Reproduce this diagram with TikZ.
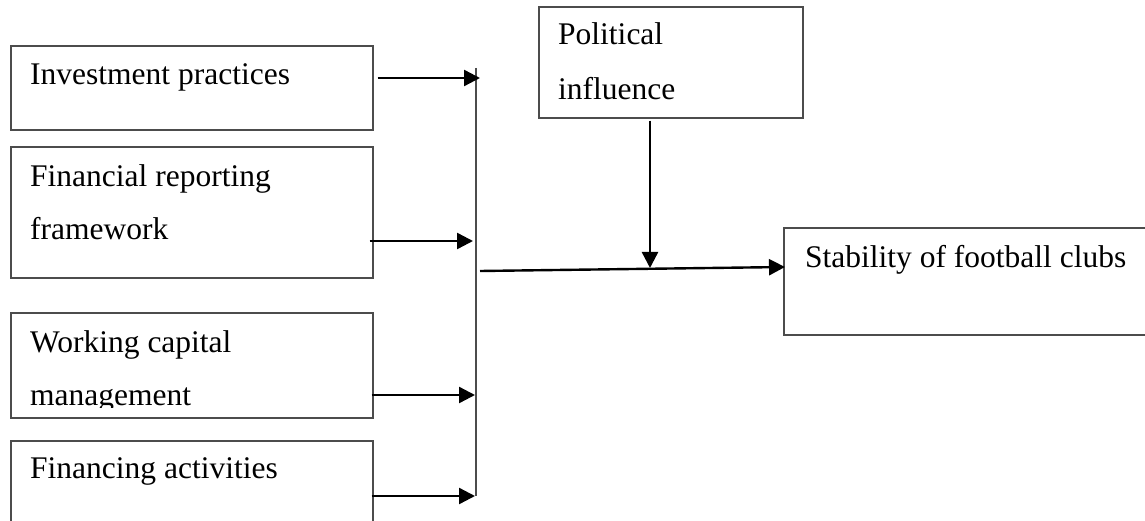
\documentclass[tikz,border=0pt]{standalone}
\usepackage{fontspec}
\setmainfont{Liberation Serif}
\usetikzlibrary{arrows.meta}
\begin{document}
\begin{tikzpicture}[x=1pt,y=-1pt,
  box/.style={draw=black!70, line width=1.6pt, inner sep=0pt, anchor=north west},
  txt/.style={anchor=base west, inner sep=0pt, font=\fontsize{31.5}{37}\selectfont},
  arr/.style={line width=2.4pt, -{Triangle[length=16pt,width=16pt]}},
  bus/.style={draw=black!70, line width=1.6pt}]
\useasboundingbox (0,0) rectangle (1145,521);
\clip (0,0) rectangle (1145,521);
% boxes
\node[box, minimum width=362pt, minimum height=84pt]  (b1) at (10,45) {};
\node[box, minimum width=362pt, minimum height=131pt] (b2) at (10,146) {};
\node[box, minimum width=362pt, minimum height=105pt] (b3) at (10,312) {};
\node[box, minimum width=362pt, minimum height=110pt] (b4) at (10,440) {};
\node[box, minimum width=264pt, minimum height=111pt] (pol) at (538,6) {};
\node[box, minimum width=400pt, minimum height=107pt] (stab) at (783,227) {};
% texts
\node[txt] (t1) at (30,85) {Investment practices};
\node[txt] (t2a) at (30,187) {Financial reporting};
\node[txt] (t2b) at (30,240) {framework};
\node[txt] (t3a) at (30,352) {Working capital};
\begin{scope}
\clip (0,0) rectangle (372,407);
\node[txt] (t3b) at (30,405) {management};
\end{scope}
\node[txt] (t4) at (30,478) {Financing activities};
\node[txt] (tp1) at (558,45) {Political};
\node[txt] (tp2) at (558,100) {influence};
\node[txt] (ts) at (805,267) {Stability of football clubs};
% bus
\coordinate (bt) at (476,68);
\coordinate (bb) at (476,496);
\draw[bus] (bt) -- (bb);
% arrow ends on the bus
\coordinate (a1) at (480,78);
\coordinate (a2) at (473,241);
\coordinate (a3) at (475,395);
\coordinate (a4) at (475,496);
\draw[arr] ([xshift=4pt]b1.east |- a1) -- (a1);
\draw[arr] ([xshift=-4pt]b2.east |- a2) -- (a2);
\draw[arr] ([xshift=-2pt]b3.east |- a3) -- (a3);
\draw[arr] ([xshift=-2pt]b4.east |- a4) -- (a4);
% main arrow
\coordinate (ms) at (480,271);
\coordinate (me) at (785,267);
\draw[arr] (ms) -- (me);
% political arrow
\coordinate (pe) at (650,268);
\draw[arr] ([yshift=-2pt]pol.south -| pe) -- (pe);
\end{tikzpicture}
\end{document}
